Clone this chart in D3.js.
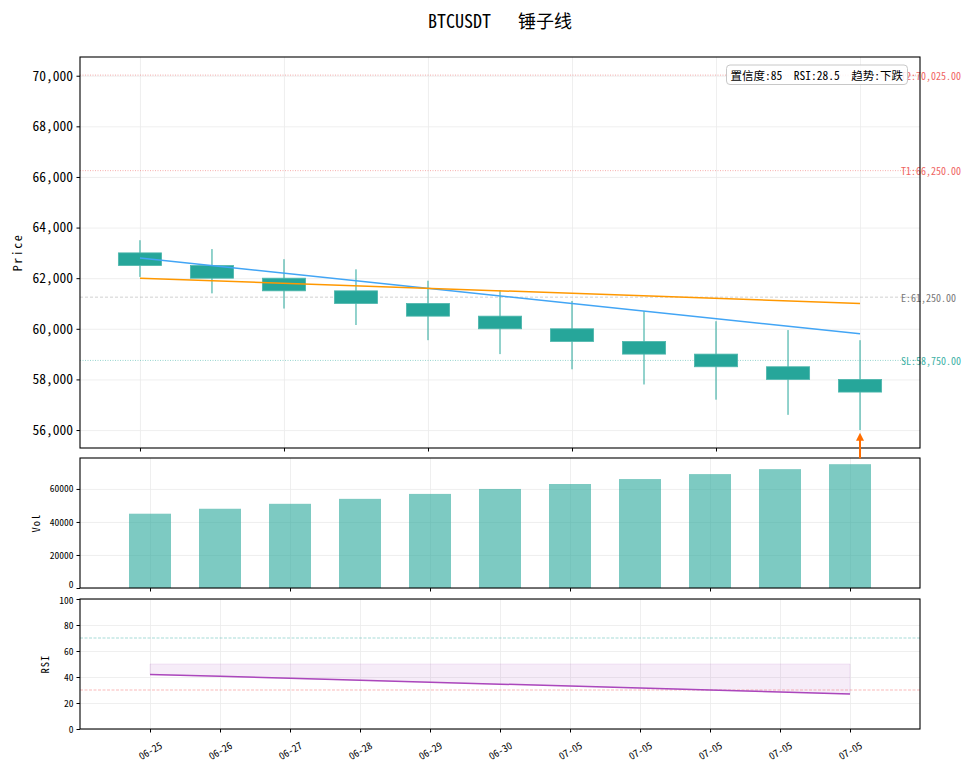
<!DOCTYPE html>
<html>
<head>
<meta charset="utf-8">
<script src="https://d3js.org/d3.v7.min.js"></script>
<style>
  body { margin: 0; background: #fff; }
  svg text {
    font-family: 'Noto Sans CJK SC', 'Liberation Mono', monospace;
    font-feature-settings: "hwid" 1;
    white-space: pre;
  }
  .grid line { stroke: #ebebeb; stroke-width: 0.8; }
  .grid path { display: none; }
  .axis path { display: none; }
  .axis line { stroke: #000; }
</style>
</head>
<body>
<div id="chart"></div>
<script>
// ---- data ----
const symbol = "BTCUSDT";
const pattern = "锤子线";
const dates = ["06-25", "06-26", "06-27", "06-28", "06-29", "06-30", "07-05", "07-05", "07-05", "07-05", "07-05"];
const opens  = [63000, 62500, 62000, 61500, 61000, 60500, 60000, 59500, 59000, 58500, 58000];
const closes = [62500, 62000, 61500, 61000, 60500, 60000, 59500, 59000, 58500, 58000, 57500];
const highs  = [63500, 63150, 62750, 62350, 61900, 61525, 61100, 60700, 60300, 59950, 59550];
const lows   = [62050, 61400, 60800, 60150, 59550, 59000, 58400, 57800, 57200, 56600, 56000];
const volumes = [45000, 48000, 51000, 54000, 57000, 60000, 63000, 66000, 69000, 72000, 75000];
const rsi = [42, 40.5, 39, 37.5, 36, 34.5, 33, 31.5, 30, 28.5, 27];

// trend lines: value at first and last candle
const trendA = [62800, 59800];   // blue
const trendB = [62000, 61000];   // orange

const levelNames  = ["T2", "T1", "E", "SL"];
const levelValues = [70025, 66250, 61250, 58750];

const confidence = 85;
const rsiNow = 28.5;
const trend = "下跌";
const signalIndex = 10;
const arrowTail = 54880;
const arrowTip = 55890;

// ---- layout ----
const width = 971, height = 770;
const left = 80, right = 920;
const mainBox = {top: 57, bottom: 448};
const volBox = {top: 458, bottom: 588};
const rsiBox = {top: 599, bottom: 729};
const n = dates.length;

const teal = "#26a69a";
const levelColor = {T2: "#ef5350", T1: "#ef5350", E: "#9e9e9e", SL: "#26a69a"};
const levelTextColor = {T2: "#ef6461", T1: "#ef6461", E: "#777", SL: "#3cb0a5"};
const levelDash = {T2: "1,1.5", T1: "1,1.5", E: "3,2", SL: "1,1.5"};

const svg = d3.select('#chart').append('svg')
  .attr('width', width)
  .attr('height', height);

const x = d3.scaleLinear().domain([-0.833, n - 1 + 0.833]).range([left, right]);
const xb = d3.scaleLinear().domain([-1, n]).range([left, right]);
const y = d3.scaleLinear().domain([55290, 70740]).range([mainBox.bottom, mainBox.top]);
const yv = d3.scaleLinear().domain([0, d3.max(volumes) * 1.05]).range([volBox.bottom, volBox.top]);
const yr = d3.scaleLinear().domain([0, 100]).range([rsiBox.bottom, rsiBox.top]);

const idx = d3.range(n);
const everyOther = idx.filter(i => i % 2 === 0);

const grid = (box, xs, xticks, ys, yticks) => {
  svg.append('g').attr('class', 'grid')
    .attr('transform', `translate(0,${box.bottom})`)
    .call(d3.axisBottom(xs).tickValues(xticks).tickSize(-(box.bottom - box.top)).tickFormat(''));
  svg.append('g').attr('class', 'grid')
    .attr('transform', `translate(${left},0)`)
    .call(d3.axisLeft(ys).tickValues(yticks).tickSize(-(right - left)).tickFormat(''));
};

const frame = (box) => {
  svg.append('rect')
    .attr('x', left).attr('y', box.top)
    .attr('width', right - left).attr('height', box.bottom - box.top)
    .attr('fill', 'none').attr('stroke', '#000').attr('stroke-width', 1.1);
};

// ---- title ----
svg.append('text')
  .attr('x', 500).attr('y', 20)
  .attr('text-anchor', 'middle')
  .attr('dominant-baseline', 'central')
  .style('font-size', '18px')
  .text(`${symbol}   ${pattern}`);

// ================= main price panel =================
const priceTicks = d3.range(56000, 70001, 2000);
grid(mainBox, x, everyOther, y, priceTicks);

// level lines
levelNames.forEach((name, i) => {
  svg.append('line')
    .attr('x1', left).attr('x2', right)
    .attr('y1', y(levelValues[i])).attr('y2', y(levelValues[i]))
    .attr('stroke', levelColor[name])
    .attr('stroke-opacity', 0.6)
    .attr('stroke-width', 0.8)
    .attr('stroke-dasharray', levelDash[name]);
});

// candles
const candles = svg.append('g');
candles.selectAll('line')
  .data(idx)
  .join('line')
    .attr('x1', i => x(i)).attr('x2', i => x(i))
    .attr('y1', i => y(highs[i])).attr('y2', i => y(lows[i]))
    .attr('stroke', teal)
    .attr('stroke-width', 1);
candles.selectAll('rect')
  .data(idx)
  .join('rect')
    .attr('x', i => x(i - 0.3))
    .attr('width', x(0.6) - x(0))
    .attr('y', i => y(Math.max(opens[i], closes[i])))
    .attr('height', i => Math.abs(y(opens[i]) - y(closes[i])))
    .attr('fill', teal)
    .attr('stroke', '#4db6ac')
    .attr('stroke-width', 0.8);

// trend lines
svg.append('line')
  .attr('x1', x(0)).attr('x2', x(n - 1))
  .attr('y1', y(trendA[0])).attr('y2', y(trendA[1]))
  .attr('stroke', '#42a5f5').attr('stroke-width', 1.5);
svg.append('line')
  .attr('x1', x(0)).attr('x2', x(n - 1))
  .attr('y1', y(trendB[0])).attr('y2', y(trendB[1]))
  .attr('stroke', '#ff9800').attr('stroke-width', 1.5);

// level labels
levelNames.forEach((name, i) => {
  svg.append('text')
    .attr('x', x(n - 1 + 0.57))
    .attr('y', y(levelValues[i]))
    .attr('dominant-baseline', 'central')
    .attr('fill', levelTextColor[name])
    .style('font-size', '10px')
    .text(`${name}:${d3.format(',.2f')(levelValues[i])}`);
});

// info box
const info = svg.append('g');
const infoText = info.append('text')
  .attr('x', 903).attr('y', 75)
  .attr('text-anchor', 'end')
  .attr('dominant-baseline', 'central')
  .style('font-size', '11.5px')
  .text(`置信度:${confidence}  RSI:${rsiNow}  趋势:${trend}`);
const bb = infoText.node().getBBox();
info.insert('rect', 'text')
  .attr('x', bb.x - 4).attr('y', 65)
  .attr('width', bb.width + 8).attr('height', 19.5)
  .attr('rx', 3.5)
  .attr('fill', '#fff').attr('fill-opacity', 0.85)
  .attr('stroke', '#c8c8c8');

// main axes
svg.append('g').attr('class', 'axis')
  .attr('transform', `translate(${left},0)`)
  .call(d3.axisLeft(y).tickValues(priceTicks).tickFormat(d3.format(',')).tickSize(3.5).tickPadding(3.5))
  .call(g => g.selectAll('text').style('font-size', '13.5px').attr('fill', '#000'));
svg.append('g').attr('class', 'axis')
  .attr('transform', `translate(0,${mainBox.bottom})`)
  .call(d3.axisBottom(x).tickValues(everyOther).tickFormat('').tickSize(3.5));
frame(mainBox);

svg.append('text')
  .attr('transform', `translate(16,${(mainBox.top + mainBox.bottom) / 2}) rotate(-90)`)
  .attr('text-anchor', 'middle')
  .attr('dominant-baseline', 'central')
  .style('font-size', '12px')
  .style('letter-spacing', '1.5px')
  .text('Price');

// ================= volume panel =================
grid(volBox, xb, everyOther, yv, [0, 20000, 40000, 60000]);
svg.append('g')
  .selectAll('rect')
  .data(idx)
  .join('rect')
    .attr('x', i => xb(i - 0.3))
    .attr('width', xb(0.6) - xb(0))
    .attr('y', i => yv(volumes[i]))
    .attr('height', i => yv(0) - yv(volumes[i]))
    .attr('fill', teal)
    .attr('fill-opacity', 0.6);
svg.append('g').attr('class', 'axis')
  .attr('transform', `translate(${left},0)`)
  .call(d3.axisLeft(yv).tickValues([0, 20000, 40000, 60000]).tickFormat(d3.format('d')).tickSize(3.5).tickPadding(3))
  .call(g => g.selectAll('text').style('font-size', '9.5px').attr('fill', '#000'))
  .call(g => g.selectAll('.tick:first-of-type text').attr('dy', '-0.1em'));
svg.append('g').attr('class', 'axis')
  .attr('transform', `translate(0,${volBox.bottom})`)
  .call(d3.axisBottom(xb).tickValues(everyOther).tickFormat('').tickSize(3.5));
frame(volBox);
svg.append('text')
  .attr('transform', `translate(35,${(volBox.top + volBox.bottom) / 2}) rotate(-90)`)
  .attr('text-anchor', 'middle')
  .attr('dominant-baseline', 'central')
  .style('font-size', '10.5px')
  .style('letter-spacing', '1px')
  .text('Vol');

// signal arrow (drawn over the panel gap)
const ax = x(signalIndex);
svg.append('line')
  .attr('x1', ax).attr('x2', ax)
  .attr('y1', y(arrowTail)).attr('y2', y(arrowTip) + 6)
  .attr('stroke', '#ff6d00').attr('stroke-width', 2);
svg.append('path')
  .attr('d', `M${ax},${y(arrowTip)} L${ax - 4},${y(arrowTip) + 8} L${ax + 4},${y(arrowTip) + 8} Z`)
  .attr('fill', '#ff6d00');

// ================= RSI panel =================
const rsiTicks = [0, 20, 40, 60, 80, 100];
grid(rsiBox, xb, idx, yr, rsiTicks);

svg.append('path')
  .datum(rsi)
  .attr('d', d3.area().x((d, i) => xb(i)).y0(yr(50)).y1(d => yr(d)))
  .attr('fill', '#ab47bc').attr('fill-opacity', 0.1)
  .attr('stroke', '#ab47bc').attr('stroke-opacity', 0.12);

[[70, teal], [30, '#ef5350']].forEach(([v, c]) => {
  svg.append('line')
    .attr('x1', left).attr('x2', right)
    .attr('y1', yr(v)).attr('y2', yr(v))
    .attr('stroke', c).attr('stroke-opacity', 0.5)
    .attr('stroke-width', 0.8).attr('stroke-dasharray', '3,1.5');
});

svg.append('path')
  .datum(rsi)
  .attr('d', d3.line().x((d, i) => xb(i)).y(d => yr(d)))
  .attr('fill', 'none')
  .attr('stroke', '#ab47bc').attr('stroke-width', 1.5);

svg.append('g').attr('class', 'axis')
  .attr('transform', `translate(${left},0)`)
  .call(d3.axisLeft(yr).tickValues(rsiTicks).tickSize(3.5).tickPadding(3))
  .call(g => g.selectAll('text').style('font-size', '9.5px').attr('fill', '#000'))
  .call(g => g.selectAll('.tick:last-of-type text').attr('dy', '0.45em'));
svg.append('g').attr('class', 'axis')
  .attr('transform', `translate(0,${rsiBox.bottom})`)
  .call(d3.axisBottom(xb).tickValues(idx).tickFormat('').tickSize(3.5));
svg.append('g')
  .selectAll('text')
  .data(idx)
  .join('text')
    .attr('transform', i => `translate(${xb(i)},${rsiBox.bottom + 21}) rotate(-30)`)
    .attr('text-anchor', 'middle')
    .attr('dominant-baseline', 'central')
    .style('font-size', '10px')
    .text(i => dates[i]);
frame(rsiBox);
svg.append('text')
  .attr('transform', `translate(44,${(rsiBox.top + rsiBox.bottom) / 2}) rotate(-90)`)
  .attr('text-anchor', 'middle')
  .attr('dominant-baseline', 'central')
  .style('font-size', '10.5px')
  .style('letter-spacing', '1px')
  .text('RSI');
</script>
</body>
</html>
